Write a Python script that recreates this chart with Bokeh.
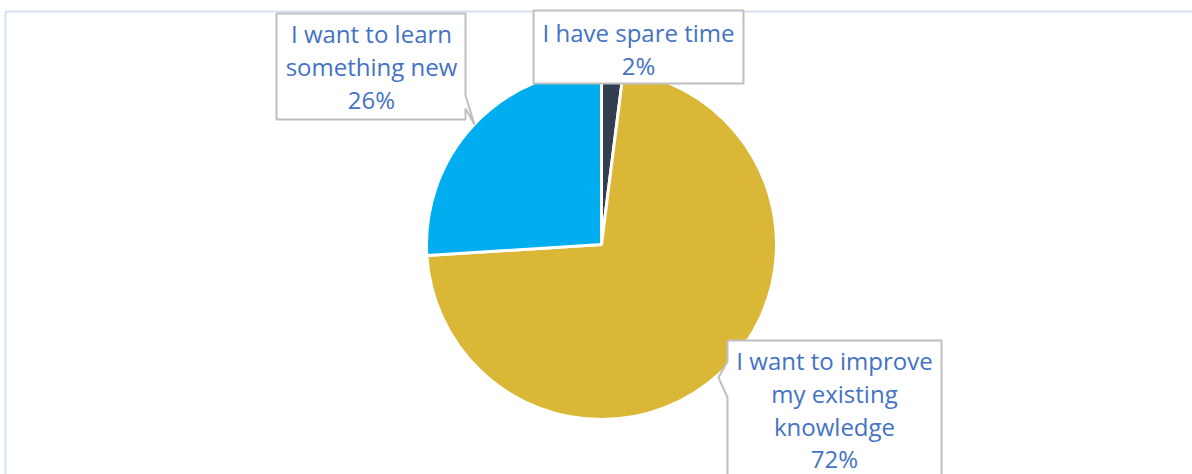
import math
from bokeh.plotting import figure
from bokeh.models import Range1d, ColumnDataSource
from bokeh.core.properties import value
from bokeh.embed import file_html
from bokeh.resources import INLINE

# ---- data ----
categories = ["I have spare time", "I want to improve my existing knowledge", "I want to learn something new"]
label_lines = ["I have spare time", "I want to improve\nmy existing\nknowledge", "I want to learn\nsomething new"]
shares = [2, 72, 26]
colors = ["#333f50", "#dbb737", "#00adef"]

W, H = 1192, 474


def sx(x):  # screen x -> data x
    return x


def sy(y):  # screen y -> data y
    return H - y


p = figure(width=W, height=H, output_backend="svg", toolbar_location=None,
           x_range=Range1d(0, W), y_range=Range1d(0, H), min_border=0)
p.axis.visible = False
p.grid.visible = False
p.outline_line_color = None
p.background_fill_color = "white"
p.border_fill_color = "white"

# chart border (top and left)
p.segment(x0=[sx(5), sx(5)], y0=[sy(11), sy(11)], x1=[sx(1200), sx(5)], y1=[sy(11), sy(500)],
          line_color="#d6e0f2", line_width=2)

# ---- pie ----
total = sum(shares)
starts, ends = [], []
cum = 0.0
for v in shares:
    a_end = math.pi / 2 - 2 * math.pi * cum / total
    cum += v
    a_start = math.pi / 2 - 2 * math.pi * cum / total
    starts.append(a_start)
    ends.append(a_end)

cx, cy, r = sx(601), sy(244), 175
src = ColumnDataSource(dict(start=starts, end=ends, color=colors, cat=categories, share=shares))
p.wedge(x=cx, y=cy, radius=r, start_angle="start", end_angle="end", direction="anticlock",
        fill_color="color", line_color="white", line_width=3, source=src)

# ---- label boxes (callouts) ----
box_xs = [
    # spare time
    [sx(533), sx(743), sx(743), sx(533)],
    # improve
    [sx(727), sx(941), sx(941), sx(727), sx(727), sx(718), sx(727)],
    # learn
    [sx(276), sx(465), sx(465), sx(474), sx(465), sx(465), sx(276)],
]
box_ys = [
    [sy(10), sy(10), sy(83), sy(83)],
    [sy(340), sy(340), sy(490), sy(490), sy(397), sy(377), sy(361)],
    [sy(13), sy(13), sy(95), sy(124), sy(108), sy(119), sy(119)],
]
p.patches(xs=box_xs, ys=box_ys, fill_color="white", line_color="#bfbfbf", line_width=2)

label_x = [sx(638), sx(834), sx(371)]
label_y = [sy(48.5), sy(409.5), sy(66)]
texts = [f"{t}\n{v}%" for t, v in zip(label_lines, shares)]
p.text(x=label_x, y=label_y, text=texts, text_align="center", text_baseline="middle",
       text_font=value("Open Sans"), text_font_size="24px", text_color="#4472c4",
       text_line_height=0.99)

open("out.html", "w").write(file_html(p, INLINE))
